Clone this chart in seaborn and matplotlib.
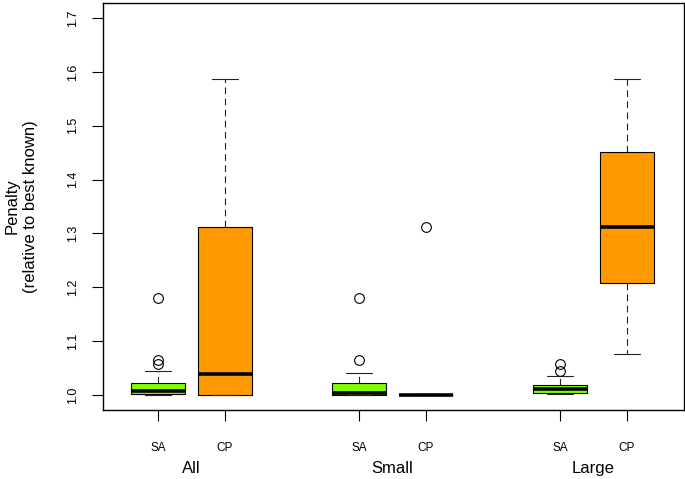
import matplotlib
matplotlib.use("Agg")
import matplotlib.pyplot as plt
import numpy as np
import pandas as pd
import seaborn as sns

# penalty values (relative to best known)
small_sa = [1.0, 1.0, 1.0, 1.0, 1.001, 1.002, 1.002, 1.003, 1.006, 1.012,
            1.02, 1.026, 1.041, 1.064, 1.18]
small_cp = [1.0] * 14 + [1.312]
large_sa = [1.002, 1.002, 1.003, 1.003, 1.006, 1.009, 1.0105, 1.013, 1.016,
            1.018, 1.036, 1.044, 1.057]
large_cp = [1.076, 1.12, 1.17, 1.208, 1.24, 1.28, 1.312, 1.35, 1.40, 1.452,
            1.49, 1.54, 1.586]

groups = ["All", "Small", "Large"]
methods = ["SA", "CP"]
colors = {"SA": "#7FFF00", "CP": "#FF9900"}
yticks = [1.0, 1.1, 1.2, 1.3, 1.4, 1.5, 1.6, 1.7]

data = {
    ("All", "SA"): small_sa + large_sa,
    ("All", "CP"): small_cp + large_cp,
    ("Small", "SA"): small_sa,
    ("Small", "CP"): small_cp,
    ("Large", "SA"): large_sa,
    ("Large", "CP"): large_cp,
}
rows = []
for (g, m), vals in data.items():
    for v in vals:
        rows.append({"group": g, "method": m, "penalty": v})
df = pd.DataFrame(rows)

sns.set_style("ticks")
plt.rcParams["font.family"] = ["Liberation Sans", "DejaVu Sans"]
plt.rcParams["text.color"] = "black"
plt.rcParams["axes.labelcolor"] = "black"
plt.rcParams["xtick.color"] = "black"
plt.rcParams["ytick.color"] = "black"

fig = plt.figure(figsize=(6.85, 4.79), dpi=100)
ax = fig.add_axes([0.1504, 0.144, 0.8481, 0.8497])

width = 2 / 3
sns.boxplot(data=df, x="group", y="penalty", hue="method",
            order=groups, hue_order=methods, palette=colors, saturation=1,
            width=width, gap=0.2, linecolor="black", linewidth=0.8,
            whis=1.5, legend=False, ax=ax,
            medianprops=dict(color="black", linewidth=2.6, solid_capstyle="butt"),
            whiskerprops=dict(linestyle=(0, (6, 4)), color="#222222"),
            capprops=dict(color="#222222"),
            flierprops=dict(marker="o", markerfacecolor="none",
                            markeredgecolor="black", markersize=7,
                            markeredgewidth=0.8))

ax.set_xlim(-0.44, 2.45)
ax.set_ylim(0.972, 1.728)

# y axis
ax.set_yticks(yticks)
ax.set_yticklabels([f"{t:.1f}" for t in yticks], rotation=90, va="center")
ax.tick_params(axis="y", length=8, width=0.8, pad=9, labelsize=9)
ax.set_ylabel("Penalty\n(relative to best known)", fontsize=12, linespacing=1.25)
ax.yaxis.set_label_coords(-0.112, 0.5)

# x axis: group names as major labels, methods as minor ticks
ax.set_xticks(range(len(groups)))
ax.set_xticklabels(groups, fontsize=12)
ax.tick_params(axis="x", which="major", length=0, pad=37)
minor_pos = [i + s * width / 4 for i in range(len(groups)) for s in (-1, 1)]
ax.set_xticks(minor_pos, minor=True)
ax.set_xticklabels(methods * len(groups), minor=True, fontsize=8.5)
ax.tick_params(axis="x", which="minor", length=8, width=0.8, pad=15)
ax.set_xlabel("")

for sp in ax.spines.values():
    sp.set_visible(True)
    sp.set_color("black")
    sp.set_linewidth(1.0)

fig.savefig("out.png", dpi=100)
